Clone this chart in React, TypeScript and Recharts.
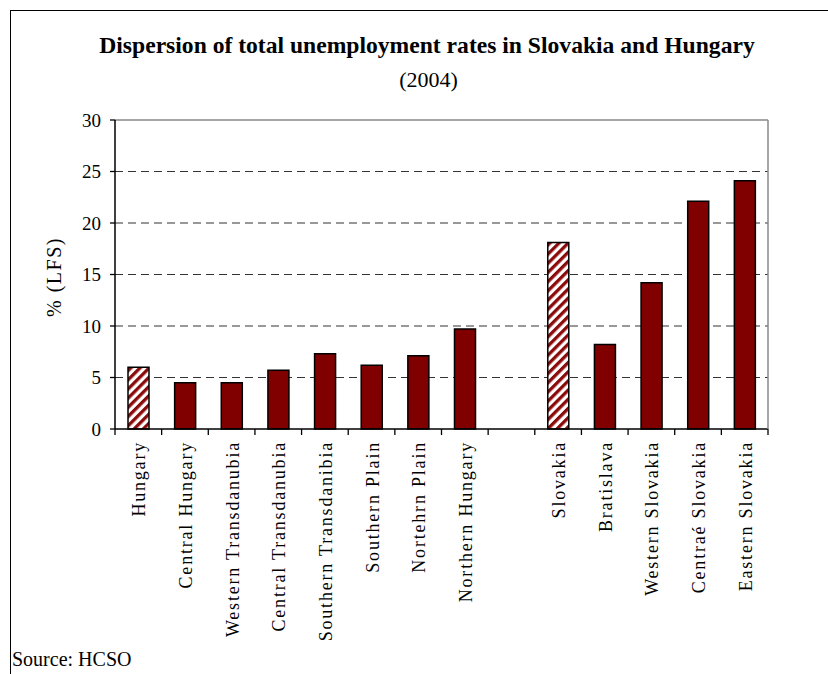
import React from 'react'
import { BarChart, Bar, Cell, XAxis, YAxis, CartesianGrid, ReferenceLine } from 'recharts'

const regions = [
  'Hungary', 'Central Hungary', 'Western Transdanubia', 'Central Transdanubia',
  'Southern Transdanibia', 'Southern Plain', 'Nortehrn Plain', 'Northern Hungary',
  '', 'Slovakia', 'Bratislava', 'Western Slovakia', 'Centraé Slovakia', 'Eastern Slovakia',
]
const rates: (number | null)[] = [6.0, 4.5, 4.5, 5.7, 7.3, 6.2, 7.1, 9.7, null, 18.1, 8.2, 14.2, 22.1, 24.1]
const countryTotals = ['Hungary', 'Slovakia']
const yTicks = [0, 5, 10, 15, 20, 25, 30]
const gridValues = [5, 10, 15, 20, 25]

const data = regions.map((name, i) => ({ name, value: rates[i] }))

const W = 828
const H = 674
const PLOT_LEFT = 115
const PLOT_RIGHT = 768
const BAND = (PLOT_RIGHT - PLOT_LEFT) / regions.length
const serif = '"Liberation Serif", "Times New Roman", serif'

function RegionTick(props: any) {
  const { x, y, payload, index } = props
  const last = index === regions.length - 1
  return (
    <g>
      <line x1={x - BAND / 2} x2={x - BAND / 2} y1={y} y2={y + 6} stroke="#000" strokeWidth={1.3} />
      {last && <line x1={x + BAND / 2} x2={x + BAND / 2} y1={y} y2={y + 6} stroke="#000" strokeWidth={1.3} />}
      <text
        transform={`translate(${x + 1},${y + 12}) rotate(-90)`}
        textAnchor="end"
        dominantBaseline="central"
        fontSize={18}
        letterSpacing={1.8}
        fontFamily={serif}
        fill="#000"
      >
        {payload.value}
      </text>
    </g>
  )
}

export default function App() {
  return (
    <div style={{ position: 'absolute', left: 0, top: 0, width: W, height: H, overflow: 'hidden', background: '#fff', fontFamily: serif }}>
      <div style={{ position: 'absolute', left: 10, top: 10, width: W + 20, height: H + 20, borderLeft: '1.5px solid #000', borderTop: '1.5px solid #000' }} />
      <div style={{ position: 'absolute', left: 0, width: 854, top: 34, textAlign: 'center', fontSize: 23.6, fontWeight: 'bold', lineHeight: 1, whiteSpace: 'nowrap' }}>
        Dispersion of total unemployment rates in Slovakia and Hungary
      </div>
      <div style={{ position: 'absolute', left: 0, width: 857, top: 69, textAlign: 'center', fontSize: 22, lineHeight: 1 }}>
        (2004)
      </div>
      <div style={{ position: 'absolute', left: 54, top: 277, transform: 'translate(-50%, -50%) rotate(-90deg)', fontSize: 20, letterSpacing: 1.5, lineHeight: 1, whiteSpace: 'nowrap' }}>
        % (LFS)
      </div>
      <div style={{ position: 'absolute', left: 12, top: 649, fontSize: 20, lineHeight: 1 }}>
        Source: HCSO
      </div>
      <div style={{ position: 'absolute', left: 0, top: 0 }}>
        <BarChart width={W} height={H} data={data} margin={{ top: 120, right: 59, bottom: 0, left: 55 }} barSize={21}>
          <defs>
            <pattern id="hatch" width="6.5" height="6.5" patternUnits="userSpaceOnUse" patternTransform="rotate(45)">
              <rect width="6.5" height="6.5" fill="#fff" />
              <rect width="3.3" height="6.5" fill="#8b0a0a" />
            </pattern>
          </defs>
          <CartesianGrid horizontal vertical={false} horizontalValues={gridValues} stroke="#333" strokeDasharray="8 5" />
          <ReferenceLine y={30} stroke="#888" strokeWidth={1.5} />
          <XAxis
            dataKey="name"
            interval={0}
            height={245}
            tickLine={false}
            tickSize={0}
            tickMargin={0}
            axisLine={{ stroke: '#000', strokeWidth: 1.5 }}
            tick={<RegionTick />}
          />
          <YAxis
            domain={[0, 30]}
            ticks={yTicks}
            width={60}
            tickSize={5}
            tickMargin={9}
            axisLine={{ stroke: '#000', strokeWidth: 1.5 }}
            tickLine={{ stroke: '#000', strokeWidth: 1.3 }}
            tick={{ fontSize: 19, fill: '#000', fontFamily: serif }}
          />
          <YAxis yAxisId="r" orientation="right" width={1} tick={false} tickLine={false} axisLine={{ stroke: '#888', strokeWidth: 1.5 }} />
          <Bar dataKey="value" isAnimationActive={false} stroke="#000" strokeWidth={1.5}>
            {data.map((d, i) => (
              <Cell key={i} fill={countryTotals.includes(d.name) ? 'url(#hatch)' : '#800000'} />
            ))}
          </Bar>
        </BarChart>
      </div>
    </div>
  )
}
